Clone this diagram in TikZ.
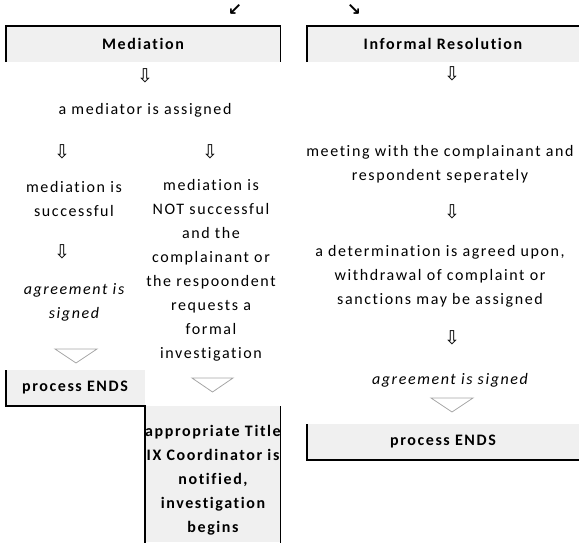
\documentclass[tikz,border=0pt]{standalone}
\usepackage{fontspec}
\setmainfont{Carlito}[LetterSpace=10,Ligatures=NoCommon]
\newfontfamily\arrowfont{DejaVu Sans}
\definecolor{cellgray}{HTML}{F0F0F0}
\definecolor{tipgray}{HTML}{A6A6A6}
\tikzset{
  txt/.style={align=center, inner sep=0pt, font=\fontsize{16}{24}\selectfont},
  hdr/.style={txt, font=\fontsize{16}{24}\selectfont\bfseries},
  emph/.style={txt, font=\fontsize{16}{24}\selectfont\itshape},
  down/.style={inner sep=0pt, font=\arrowfont\fontsize{19}{19}\selectfont},
  branch/.style={inner sep=0pt, font=\arrowfont\bfseries\fontsize{17}{17}\selectfont},
  edge/.style={line width=2.2pt},
  thinedge/.style={line width=1.4pt},
  tip/.style={draw=tipgray, line width=0.8pt, fill=white}
}
\begin{document}
\begin{tikzpicture}[x=1pt,y=-1pt]
            \useasboundingbox (0,0) rectangle (579,542);
            % branch marks
            \node[branch] (split-l) at (235,10) {↙};
            \node[branch] (split-r) at (354,10) {↘};
            % header cells
            \fill[cellgray] (6,26) rectangle (281,62);
            \fill[cellgray] (307,26) rectangle (579,62);
            \draw[edge] (6,62)--(6,26)--(281,26);
            \draw[thinedge] (280.5,26)--(280.5,62);
            \draw[edge] (307,62)--(307,26)--(579,26);
            \node[hdr] (mediation) at (143,44) {Mediation};
            \node[hdr] (informal) at (443,44) {Informal Resolution};
            % mediation branch
            \node[down] (med-a1) at (145,76) {⇩};
            \node[txt] (assigned) at (145,110) {a mediator is assigned};
            \node[down] (med-a2) at (62,152) {⇩};
            \node[down] (med-a3) at (210,152) {⇩};
            \node[txt] (success) at (74,199) {mediation is\\successful};
            \node[down] (med-a4) at (62,252) {⇩};
            \node[emph] (signed-l) at (74,302) {agreement is\\signed};
            \draw[tip] (55,349)--(97,349)--(76,363)--cycle;
            \node[txt] (fail) at (211,270) {mediation is\\NOT successful\\and the\\complainant or\\the respoondent\\requests a\\formal\\investigation};
            \draw[tip] (192,378)--(233,378)--(212.5,392)--cycle;
            % end cells, mediation
            \fill[cellgray] (6,370) rectangle (145,406);
            \fill[cellgray] (145,406) rectangle (281,542);
            \draw[edge] (6,370)--(6,406)--(145,406)--(145,543);
            \draw[thinedge] (280.5,406)--(280.5,543);
            \node[hdr] (ends-l) at (75,388) {process ENDS};
            \node[hdr] (title-ix) at (213,480) {appropriate Title\\IX Coordinator is\\notified,\\investigation\\begins};
            % informal branch
            \node[down] (inf-a1) at (452,74) {⇩};
            \node[txt] (meeting) at (440,164) {meeting with the complainant and\\respondent seperately};
            \node[down] (inf-a2) at (452,212) {⇩};
            \node[txt] (determ) at (440,276) {a determination is agreed upon,\\withdrawal of complaint or\\sanctions may be assigned};
            \node[down] (inf-a3) at (452,338) {⇩};
            \node[emph] (signed-r) at (450,380) {agreement is signed};
            \draw[tip] (431,398)--(473,398)--(452,412)--cycle;
            \fill[cellgray] (307,424) rectangle (579,460);
            \draw[edge] (307,424)--(307,460)--(579,460);
            \node[hdr] (ends-r) at (443,442) {process ENDS};
        \end{tikzpicture}
\end{document}
